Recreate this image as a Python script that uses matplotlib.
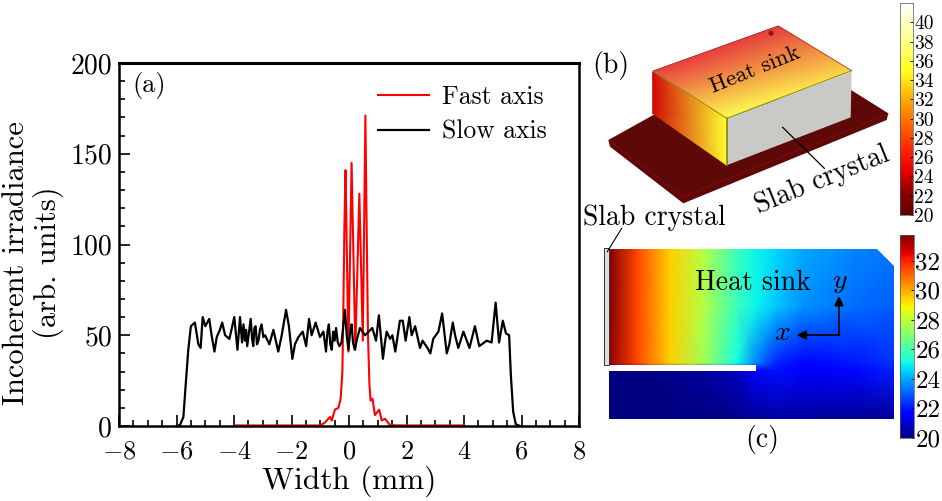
import numpy as np
import matplotlib
matplotlib.use('Agg')
import matplotlib.pyplot as plt
from matplotlib.colors import LinearSegmentedColormap
from matplotlib.patches import Polygon, Rectangle, Circle

plt.rcParams['font.family'] = ['cmr10', 'DejaVu Serif']
plt.rcParams['mathtext.fontset'] = 'cm'
plt.rcParams['axes.unicode_minus'] = False

W, H = 942, 501

# curva lenta
slow_x = [-6.0, -5.88, -5.76, -5.67, -5.59, -5.5, -5.36, -5.24, -5.16, -5.09, -5.0, -4.86, -4.78, -4.68,
          -4.6, -4.49, -4.41, -4.31, -4.16, -3.99, -3.88, -3.83, -3.79, -3.72, -3.67, -3.62, -3.58, -3.54, -3.42,
          -3.37, -3.33, -3.29, -3.25, -3.2, -3.15, -3.1, -3.04, -2.98, -2.92, -2.77, -2.63, -2.46, -2.34, -2.19,
          -2.09, -1.97, -1.88, -1.76, -1.61, -1.49, -1.39, -1.3, -1.16, -1.01, -0.89, -0.8, -0.75, -0.7, -0.65,
          -0.6, -0.55, -0.5, -0.45, -0.39, -0.33, -0.26, -0.14, -0.08, -0.02, 0.04, 0.09, 0.14, 0.2, 0.28, 0.38,
          0.56, 0.81, 0.94, 1.04, 1.18, 1.25, 1.31, 1.43, 1.51, 1.61, 1.77, 1.87, 1.97, 2.1, 2.18, 2.3, 2.47, 2.56,
          2.73, 2.83, 2.93, 3.11, 3.24, 3.4, 3.49, 3.61, 3.69, 3.8, 3.98, 4.19, 4.38, 4.53, 4.79, 4.96, 5.1,
          5.22, 5.35, 5.46, 5.57, 5.63, 5.71, 5.8, 5.95]
slow_y = [0, 0.5, 5, 25, 42, 55, 57, 45, 43, 60, 55, 59, 50, 41,
          49, 53, 57, 50, 48, 60, 42, 52, 60, 46, 56, 47, 53, 44, 59,
          48, 44, 54, 55, 45, 47, 53, 56, 49, 50, 45, 53, 41, 50, 64,
          55, 37, 45, 49, 52, 44, 59, 50, 57, 49, 52, 41, 52, 56, 45,
          42, 52, 47, 54, 46, 44, 46, 64, 50, 42, 52, 56, 46, 42, 48, 54,
          50, 54, 47, 61, 37, 46, 52, 48, 50, 41, 58, 58, 47, 60, 50, 55, 43, 47,
          43, 40, 48, 52, 62, 40, 45, 57, 50, 43, 52, 43, 55, 44, 47, 46, 68,
          46, 58, 51, 50, 28, 8, 1, 0]

# curva rapida
fast_x = [-4.0, -2.0, -1.0, -0.83, -0.66, -0.6, -0.49, -0.37, -0.29, -0.23, -0.2, -0.16, -0.12, -0.02,
          0.09, 0.22, 0.36, 0.48, 0.57, 0.61, 0.66, 0.71, 0.75, 0.82, 0.9, 1.05, 1.14, 1.25, 1.43, 2.0, 4.0]
fast_y = [0.3, 0.3, 0.3, 2, 5, 3, 9, 10, 15, 30, 60, 110, 141, 41,
          145, 42, 128, 47, 171, 115, 50, 23, 14, 15, 6, 9, 3, 4, 0.4, 0.3, 0.3]

x_ticks = [-8, -6, -4, -2, 0, 2, 4, 6, 8]
y_ticks = [0, 50, 100, 150, 200]

# temperaturas del mapa (c)
c_cols = [118, 200, 300, 400, 500, 560, 620, 700, 850, 972]
c_rows = [88, 260, 430, 452, 597]
c_temp = [[34, 31.5, 29.5, 27.8, 25.8, 25, 24.6, 24, 23.5, 23.3],
          [34, 31.5, 29.5, 27.8, 25.8, 25, 24.4, 23.7, 23.2, 23],
          [33.5, 31.5, 29.5, 27.5, 25.2, 23.4, 22.2, 21.6, 22, 22.4],
          [20, 20, 20.2, 20.4, 20.8, 21.8, 21.9, 21.5, 21.8, 22.1],
          [20, 20, 20, 20, 20.2, 20.3, 20.4, 20.4, 20.3, 20.3]]

bar_b_ticks = list(range(20, 42, 2))
bar_c_ticks = list(range(20, 34, 2))

hot2 = LinearSegmentedColormap.from_list('hot2', [(0, '#5a0000'), (0.1, '#8c0000'), (0.2, '#e00000'),
                                                  (0.3, '#ff2000'), (0.5, '#ff9000'), (0.68, '#ffff20'),
                                                  (0.85, '#ffffa0'), (1, '#ffffff')])
top_cmap = LinearSegmentedColormap.from_list('top', ['#e63c3c', '#f25a50', '#f8a040', '#ffff50'])
side_cmap = LinearSegmentedColormap.from_list('side', ['#d00808', '#ff1000', '#ff8000', '#ffff30'])


def ejes_px(x0, y0, x1, y1):
    return plt.gcf().add_axes([x0 / W, 1 - y1 / H, (x1 - x0) / W, (y1 - y0) / H])


def b(zx, zy):
    return 590 + zx / 3, zy / 3


def c(zx, zy):
    return 570 + zx / 3, 220 + zy / 3


def cara(ax, puntos, valores, cmap):
    # puntos: [[a, b], [d, c]] esquinas de la cara
    xs = np.array([[p[0] for p in fila] for fila in puntos])
    ys = np.array([[p[1] for p in fila] for fila in puntos])
    ax.pcolormesh(xs, ys, np.array(valores), shading='gouraud', cmap=cmap, vmin=0, vmax=1)


def barra(x0, y0, x1, y1, vmin, vmax, ticks, cmap, fs):
    cax = ejes_px(x0, y0, x1, y1)
    grad = np.linspace(vmin, vmax, 256).reshape(-1, 1)
    cax.imshow(grad, origin='lower', aspect='auto', cmap=cmap, extent=[0, 1, vmin, vmax])
    cax.set_xticks([])
    cax.yaxis.tick_right()
    cax.set_yticks(ticks)
    cax.set_yticklabels([str(t) for t in ticks], fontsize=fs)
    cax.tick_params(axis='y', length=2, width=0.6, pad=1, direction='in')
    for s in cax.spines.values():
        s.set_linewidth(0.5)
        s.set_color('#555555')


fig = plt.figure(figsize=(W / 100, H / 100), dpi=100)

# panel (a)
ax = ejes_px(119, 63, 579, 426)
ax.plot(fast_x, fast_y, color='#ff0000', lw=1.5, label='Fast axis')
ax.plot(slow_x, slow_y, color='black', lw=1.6, label='Slow axis')
ax.set_xlim(-8, 8)
ax.set_ylim(0, 200)
ax.set_xticks(x_ticks)
ax.set_xticklabels(['$-%d$' % abs(t) if t < 0 else '$%d$' % t for t in x_ticks], fontsize=19)
ax.set_yticks(y_ticks)
ax.set_yticklabels([str(t) for t in y_ticks], fontsize=20)
ax.set_xticks(np.arange(-8, 8.1, 0.5), minor=True)
ax.set_yticks(np.arange(0, 201, 10), minor=True)
ax.tick_params(axis='x', which='major', direction='in', length=8, width=1.2, pad=10)
ax.tick_params(axis='y', which='major', direction='in', length=8, width=1.2, pad=5)
ax.tick_params(which='minor', direction='in', length=4, width=1.2)
ax.set_xlabel('Width (mm)', fontsize=22.5, labelpad=1)
ax.set_ylabel('Incoherent irradiance\n(arb. units)', fontsize=22, linespacing=1.1)
ax.yaxis.set_label_coords(-0.12, 0.449)
for s in ax.spines.values():
    s.set_linewidth(1.8)
ax.spines['top'].set_linewidth(2.2)
ax.legend(loc='upper left', bbox_to_anchor=(0.563, 0.94), frameon=False, fontsize=18.5,
          handlelength=2.0, handletextpad=0.5, labelspacing=0.45, borderpad=0, borderaxespad=0)

# capa para las ilustraciones
ov = fig.add_axes([0, 0, 1, 1], facecolor='none')
ov.set_xlim(0, W)
ov.set_ylim(H, 0)
ov.axis('off')
ov.text(149, 85, '(a)', fontsize=19, ha='center', va='center')
ov.text(611, 65, '(b)', fontsize=20, ha='center', va='center')
ov.text(762, 439, '(c)', fontsize=20, ha='center', va='center')

# panel (b): base y bloque
ov.add_patch(Polygon([b(55, 420), b(190, 345), b(780, 268), b(895, 340), b(890, 360), b(280, 610), b(60, 440)],
                     closed=True, fc='#5e0808', ec='none'))
ov.plot(*zip(b(60, 425), b(280, 590), b(893, 342)), color='#7a0c0c', lw=0.8)
cara(ov, [[b(188, 215), b(410, 355)], [b(188, 340), b(410, 495)]], [[0, 1], [0, 1]], side_cmap)
cara(ov, [[b(190, 213), b(565, 78)], [b(410, 355), b(785, 212)]], [[0.05, 0], [1, 0.85]], top_cmap)
ov.add_patch(Polygon([b(412, 355), b(785, 215), b(782, 352), b(412, 495)], closed=True, fc='#c9c9c6', ec='none'))
ov.plot(*zip(b(190, 213), b(410, 355), b(785, 212)), color='#8a8a10', lw=0.7)
ov.plot(*zip(b(410, 355), b(410, 495)), color='#8a8a10', lw=1.2)
ov.plot(*zip(b(190, 213), b(565, 78), b(785, 212)), color='#a03030', lw=0.5)
ov.add_patch(Circle(b(543, 100), 2.6, fc='#a01010', ec='none'))
ov.text(*b(495, 210), 'Heat sink', fontsize=16.5, rotation=22, ha='center', va='center', rotation_mode='anchor')
ov.plot(*zip(b(578, 382), b(703, 505)), color='black', lw=0.9)
ov.text(*b(695, 540), 'Slab crystal', fontsize=20, rotation=22, ha='center', va='center', rotation_mode='anchor')
ov.text(654, 218, 'Slab crystal', fontsize=20, ha='center', va='center')
barra(900, 3, 913, 215, 20, 42, bar_b_ticks, hot2, 14)

# panel (c): mapa de temperatura
cx, cy = np.meshgrid([c(v, 0)[0] for v in c_cols], [c(0, v)[1] for v in c_rows])
malla = ov.pcolormesh(cx, cy, np.array(c_temp), shading='gouraud', cmap='jet', vmin=20, vmax=33.75)
forma = Polygon([c(118, 88), c(920, 88), c(972, 138), c(972, 597), c(118, 597), c(118, 452),
                 c(557, 452), c(557, 436), c(118, 436)], closed=True, fc='none', ec='none', transform=ov.transData)
ov.add_patch(forma)
malla.set_clip_path(forma)
ov.add_patch(Rectangle(c(103, 85), 5, 117, fc='#dddddd', ec='#333333', lw=0.7))
ov.plot(*zip(c(112, 95), c(155, 25)), color='black', lw=0.8)
ov.text(*c(548, 190), 'Heat sink', fontsize=20, ha='center', va='center')
ov.text(*c(810, 185), '$y$', fontsize=20, ha='center', va='center')
ov.text(*c(637, 340), '$x$', fontsize=20, ha='center', va='center')
ov.annotate('', xy=c(680, 345), xytext=c(809, 345),
            arrowprops=dict(arrowstyle='-|>', color='black', lw=1.2, shrinkA=0, shrinkB=0, mutation_scale=14))
ov.annotate('', xy=c(807, 228), xytext=c(807, 346),
            arrowprops=dict(arrowstyle='-|>', color='black', lw=1.2, shrinkA=0, shrinkB=0, mutation_scale=14))
barra(900, 235, 914, 438, 20, 33.75, bar_c_ticks, 'jet', 18)

fig.savefig('out.png', dpi=100)
